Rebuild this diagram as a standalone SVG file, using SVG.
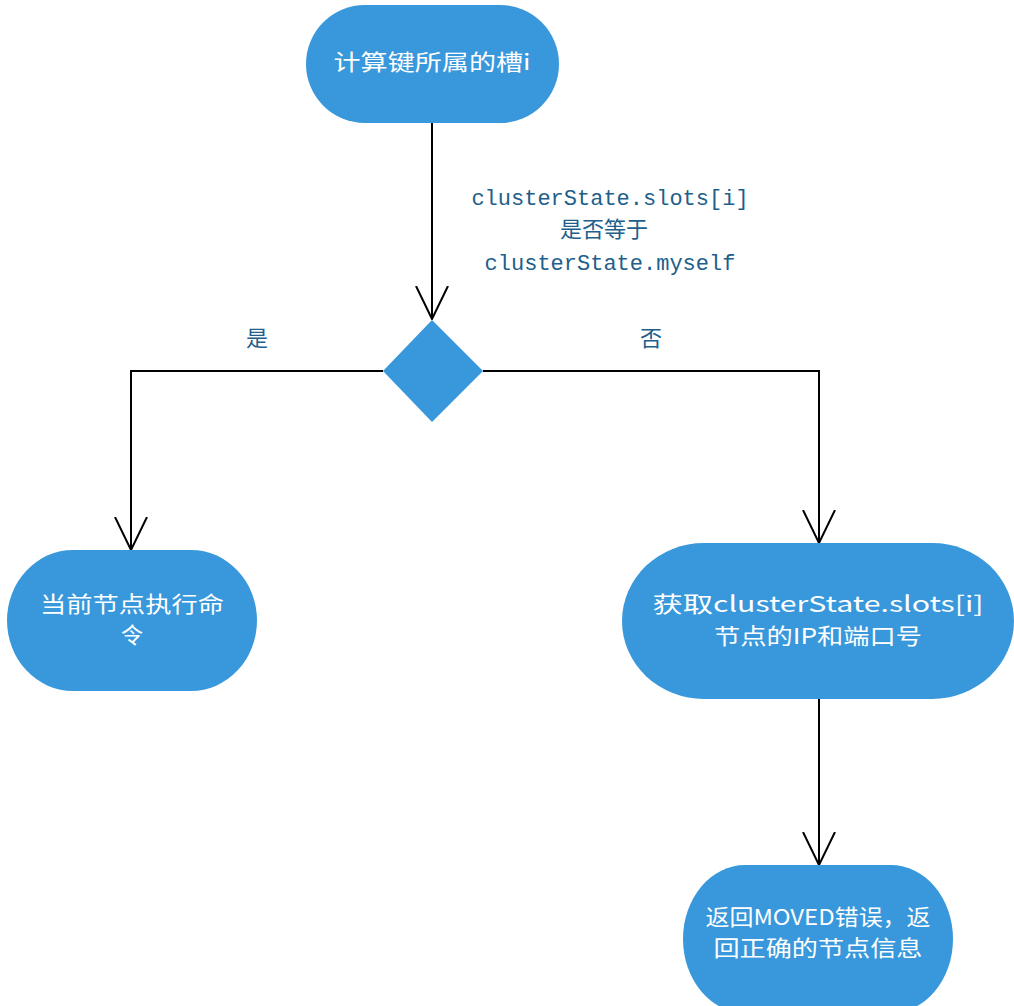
<svg xmlns="http://www.w3.org/2000/svg" width="1014" height="1006" viewBox="0 0 1014 1006">
<defs>
<style>
.node{fill:#3898db;}
.nt{fill:#ffffff;font-family:"Noto Sans CJK SC",sans-serif;font-size:22px;text-anchor:middle;}
.lbl{fill:#215e8a;font-family:"Liberation Mono","Noto Sans CJK SC",monospace;font-size:22px;text-anchor:middle;}
.edge{fill:none;stroke:#000000;stroke-width:2;}
</style>
<marker id="arr" viewBox="0 0 34 34" refX="33" refY="17" markerWidth="34" markerHeight="34" markerUnits="userSpaceOnUse" orient="auto">
<path d="M0,1 L33,17 L0,33" fill="none" stroke="#000000" stroke-width="2"/>
</marker>
</defs>
<rect width="1014" height="1006" fill="#ffffff"/>
<g id="connectors">
<path class="edge" d="M432,123 L432,319" marker-end="url(#arr)"/>
<path class="edge" d="M383,371 L131,371 L131,550" marker-end="url(#arr)"/>
<path class="edge" d="M483,371 L819,371 L819,543" marker-end="url(#arr)"/>
<path class="edge" d="M819,699 L819,865" marker-end="url(#arr)"/>
<text class="lbl" x="610" y="205">clusterState.slots[i]</text>
<text class="lbl" x="604" y="237">是否等于</text>
<text class="lbl" x="610" y="270">clusterState.myself</text>
<text class="lbl" x="257" y="346">是</text>
<text class="lbl" x="651" y="346">否</text>
</g>
<g id="start">
<rect class="node" x="306" y="5" width="253" height="118" rx="59" ry="59"/>
<text class="nt" x="432" y="70" textLength="197" lengthAdjust="spacingAndGlyphs">计算键所属的槽i</text>
</g>
<g id="decision">
<path class="node" d="M432,320 L483,371 L432,422 L383,371 Z"/>
</g>
<g id="exec">
<rect class="node" x="7" y="550" width="250" height="141" rx="66" ry="70.5"/>
<text class="nt" x="132" y="612" textLength="184" lengthAdjust="spacingAndGlyphs">当前节点执行命</text>
<text class="nt" x="132" y="643">令</text>
</g>
<g id="getnode">
<rect class="node" x="622" y="543" width="392" height="156" rx="82" ry="78"/>
<text class="nt" x="818" y="612" textLength="331" lengthAdjust="spacingAndGlyphs">获取clusterState.slots[i]</text>
<text class="nt" x="818" y="644" textLength="208" lengthAdjust="spacingAndGlyphs">节点的IP和端口号</text>
</g>
<g id="moved">
<rect class="node" x="683" y="865" width="270" height="148" rx="62" ry="74"/>
<text class="nt" x="818" y="925" textLength="225" lengthAdjust="spacingAndGlyphs">返回MOVED错误，返</text>
<text class="nt" x="818" y="956" textLength="209" lengthAdjust="spacingAndGlyphs">回正确的节点信息</text>
</g>
</svg>
